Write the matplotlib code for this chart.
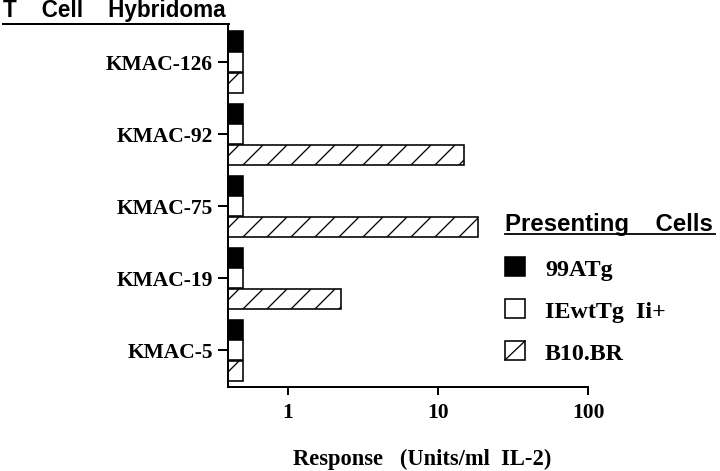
import matplotlib
matplotlib.use("Agg")
import matplotlib.pyplot as plt
import numpy as np
from matplotlib.lines import Line2D
from matplotlib.patches import Rectangle
from matplotlib.ticker import NullLocator, FixedLocator, FixedFormatter

# ---- data ----
categories = ["KMAC-126", "KMAC-92", "KMAC-75", "KMAC-19", "KMAC-5"]
series_names = ["99ATg", "IEwtTg  Ii+", "B10.BR"]
atg99 = [0.5, 0.5, 0.5, 0.5, 0.5]
iewt_ii = [0.5, 0.5, 0.5, 0.5, 0.5]
b10br = [0.5, 15.0, 18.5, 2.25, 0.5]
xticks = [1, 10, 100]
xticklabels = ["1", "10", "100"]

plt.rcParams["hatch.linewidth"] = 1.3
W, H = 720, 471
DPI = 72
fig = plt.figure(figsize=(W / DPI, H / DPI), dpi=DPI)

serif = dict(family="Liberation Serif", weight="bold")
sans = dict(family="Liberation Sans", weight="bold")

def fx(px):
    return px / W

def fy(py):
    return 1 - py / H

ax = fig.add_axes([fx(228), fy(387), fx(588) - fx(228), fy(24) - fy(387)])
ax.set_xscale("log")
xmin = 10 ** -0.4
ax.set_xlim(xmin, 100)
ax.set_ylim(4.51, -0.53)

y = np.arange(len(categories))
h = 0.282
off = 0.285
styles = [dict(facecolor="black", edgecolor="black"),
          dict(facecolor="white", edgecolor="black"),
          dict(facecolor="white", edgecolor="black", hatch="/")]
for vals, dy, st in zip([atg99, iewt_ii, b10br], [-off, 0, off], styles):
    widths = np.array(vals) - xmin
    ax.barh(y + dy, widths, left=xmin, height=h, linewidth=1.6, **st)

ax.xaxis.set_major_locator(FixedLocator(xticks))
ax.xaxis.set_major_formatter(FixedFormatter(xticklabels))
ax.xaxis.set_minor_locator(NullLocator())
ax.set_yticks(y)
ax.set_yticklabels(categories)
for lab in ax.get_yticklabels() + ax.get_xticklabels():
    lab.set_fontfamily("Liberation Serif")
    lab.set_fontweight("bold")
    lab.set_fontsize(21.5)
ax.tick_params(axis="y", length=10, width=2, pad=5)
ax.tick_params(axis="x", length=8, width=2, pad=8)
for s in ["top", "right"]:
    ax.spines[s].set_visible(False)
for s in ["left", "bottom"]:
    ax.spines[s].set_linewidth(2)

# header line and title
fig.add_artist(Line2D([fx(3), fx(229)], [fy(24), fy(24)], transform=fig.transFigure,
                      color="black", lw=2))
fig.text(fx(3), fy(17), "T    Cell    Hybridoma", ha="left", va="baseline",
         fontsize=22.5, **sans)

# x label
fig.text(fx(293), fy(465), "Response   (Units/ml  IL-2)", ha="left", va="baseline",
         fontsize=22.5, **serif)

# legend (manual)
fig.text(fx(505), fy(231), "Presenting    Cells", ha="left", va="baseline",
         fontsize=24, **sans)
fig.add_artist(Line2D([fx(505), fx(715)], [fy(234), fy(234)], transform=fig.transFigure,
                      color="black", lw=1.8))
base = [276, 318, 360]
for i, (name, st, b) in enumerate(zip(series_names, styles, base)):
    st2 = {k: v for k, v in st.items() if k != "hatch"}
    r = Rectangle((fx(505), fy(b)), fx(525) - fx(505), fy(b - 19) - fy(b),
                  transform=fig.transFigure, linewidth=1.6, **st2)
    fig.add_artist(r)
    if "hatch" in st:
        fig.add_artist(Line2D([fx(505), fx(525)], [fy(b), fy(b - 19)],
                              transform=fig.transFigure, color="black", lw=1.3))
    fig.text(fx(545), fy(b), name, ha="left", va="baseline", fontsize=24, **serif)

fig.savefig("out.png", dpi=DPI)
